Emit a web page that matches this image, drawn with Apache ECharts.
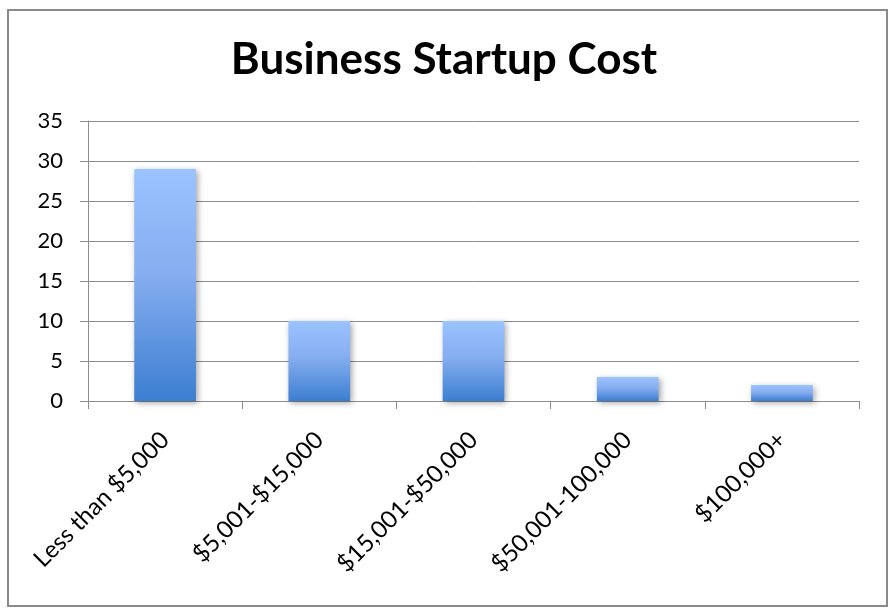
<!DOCTYPE html>
<html>
<head>
<meta charset="utf-8">
<script src="https://cdn.jsdelivr.net/npm/echarts@6/dist/echarts.min.js"></script>
<style>
  html, body { margin: 0; padding: 0; background: #fff; }
  #chart { width: 888px; height: 608px; }
</style>
</head>
<body>
<div id="chart"></div>
<script>
// Startup cost ranges and the number of businesses in each
const categories = ['Less than $5,000', '$5,001-$15,000', '$15,001-$50,000', '$50,001-100,000', '$100,000+'];
const counts = [29, 10, 10, 3, 2];
const yTicks = [0, 5, 10, 15, 20, 25, 30, 35];

const chart = echarts.init(document.getElementById('chart'), null, { renderer: 'canvas' });
const font = 'Lato, "Open Sans", sans-serif';
const lineGray = '#8c8c8c';

chart.setOption({
  animation: false,
  backgroundColor: '#ffffff',
  title: {
    text: 'Business Startup Cost',
    left: 'center',
    top: 33,
    textStyle: { fontFamily: font, fontWeight: 'bold', fontSize: 44, color: '#000' }
  },
  graphic: [{
    type: 'rect',
    shape: { x: 8, y: 10, width: 879, height: 596 },
    style: { fill: 'none', stroke: '#8a8a8a', lineWidth: 2 },
    silent: true
  }],
  grid: { left: 88, right: 29, top: 121, bottom: 207 },
  xAxis: {
    type: 'category',
    data: categories,
    boundaryGap: true,
    axisLine: { lineStyle: { color: lineGray, width: 1 } },
    axisTick: { show: true, length: 8, lineStyle: { color: lineGray } },
    axisLabel: {
      rotate: 45,
      interval: 0,
      margin: 35,
      fontFamily: font,
      fontSize: 24,
      color: '#000'
    }
  },
  yAxis: {
    type: 'value',
    min: yTicks[0],
    max: yTicks[yTicks.length - 1],
    interval: 5,
    axisLine: { show: true, lineStyle: { color: lineGray, width: 1 } },
    axisTick: { show: true, length: 8, lineStyle: { color: lineGray } },
    splitLine: { lineStyle: { color: lineGray, width: 1 } },
    axisLabel: { margin: 25, fontFamily: font, fontSize: 22, color: '#000' }
  },
  series: [{
    type: 'bar',
    data: counts,
    barWidth: '40%',
    itemStyle: {
      color: new echarts.graphic.LinearGradient(0, 0, 0, 1, [
        { offset: 0, color: '#9bc3ff' },
        { offset: 0.45, color: '#86aef0' },
        { offset: 1, color: '#3c7ed0' }
      ]),
      shadowColor: 'rgba(0,0,0,0.35)',
      shadowBlur: 6,
      shadowOffsetX: 2,
      shadowOffsetY: 2
    }
  }]
});
</script>
</body>
</html>
